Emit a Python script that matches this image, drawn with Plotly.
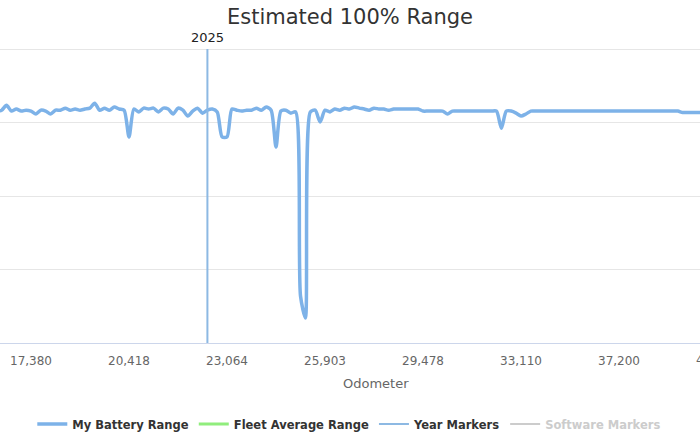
import plotly.graph_objects as go

# ---- data ----
# point index along category axis (starts a few points before first labelled tick)
start_index = -7
battery_range = [
    278.9, 279.2, 280.9, 278.9, 279.6, 278.9, 279.2,            # -7..-1
    278.9, 277.9, 279.2, 278.9, 277.9, 279.2, 279.2, 279.9,     # 0..7
    279.2, 279.6, 279.2, 279.6, 279.9, 281.6, 279.2, 279.9,     # 8..15
    279.2, 280.3, 279.6, 279.2, 270.1, 279.6, 278.6, 279.9,     # 16..23
    279.6, 279.9, 278.6, 279.9, 279.6, 277.9, 279.9, 279.2,     # 24..31
    277.2, 278.9, 279.9, 278.2, 279.2, 279.6, 278.6, 270.1,     # 32..39
    270.1, 279.6, 279.2, 278.9, 279.2, 279.2, 279.9, 279.2,     # 40..47
    280.3, 279.2, 266.7, 278.9, 279.2, 278.2, 278.6, 216.0,     # 48..55
    208.5, 278.6, 279.2, 275.2, 279.2, 278.6, 279.6, 279.2,     # 56..63
    279.9, 279.6, 280.3, 279.9, 279.6, 279.2, 279.9, 279.6,     # 64..71
    279.6, 279.2, 279.6, 279.6, 279.6, 279.6, 279.6, 279.6,     # 72..79
    278.9, 278.9, 278.9, 278.9, 278.9, 277.9, 278.9, 278.9,     # 80..87
    278.9, 278.9, 278.9, 278.9, 278.9, 278.9, 278.9, 278.9,     # 88..95
    273.1, 278.9, 278.9, 278.2, 277.2, 277.9, 278.9, 278.9,     # 96..103
    278.9, 278.9, 278.9, 278.9, 278.9, 278.9, 278.9, 278.9,     # 104..111
    278.9, 278.9, 278.9, 278.9, 278.9, 278.9, 278.9, 278.9,     # 112..119
    278.9, 278.9, 278.9, 278.9, 278.9, 278.9, 278.9, 278.9,     # 120..127
    278.9, 278.9, 278.9, 278.9, 278.9, 278.4, 278.4, 278.4,     # 128..135
    278.4, 278.4,                                               # 136..137
]
point_index = list(range(start_index, start_index + len(battery_range)))

tick_index = [0, 20, 40, 60, 80, 100, 120, 140]
tick_labels = ["17,380", "20,418", "23,064", "25,903", "29,478", "33,110", "37,200", "41,296"]

year_marker_index = [36]
year_marker_labels = ["2025"]

x_view = [-6.33, 136.53]
y_view = [200, 300.7]
y_grid_top = 300

BLUE = "#7db2e8"
GREEN = "#90ed7d"
MARKER_BLUE = "#8db9e3"
GREY = "#cccccc"

fig = go.Figure()
fig.add_trace(go.Scatter(
    x=point_index, y=battery_range, mode="lines", name="My Battery Range",
    line=dict(color=BLUE, width=3.5, shape="spline", smoothing=0.7),
))
fig.add_trace(go.Scatter(
    x=[None], y=[None], mode="lines", name="Fleet Average Range",
    line=dict(color=GREEN, width=3),
))
for k, xi in enumerate(year_marker_index):
    fig.add_trace(go.Scatter(
        x=[xi, xi], y=[y_view[0], y_grid_top], mode="lines", name="Year Markers",
        line=dict(color=MARKER_BLUE, width=2), showlegend=(k == 0),
    ))
    fig.add_annotation(x=xi, y=y_grid_top, xref="x", yref="y", text=year_marker_labels[k],
                       showarrow=False, yanchor="bottom", yshift=2,
                       font=dict(family="DejaVu Sans", size=13, color="#222"))
fig.add_trace(go.Scatter(
    x=[None], y=[None], mode="lines",
    name="<span style='color:#cccccc'>Software Markers</span>",
    line=dict(color=GREY, width=2),
))

# cut-off last tick label (beyond the visible plot range)
span = x_view[1] - x_view[0]
fig.add_annotation(x=(tick_index[-1] - x_view[0]) / span, y=0, xref="paper", yref="paper",
                   text=tick_labels[-1], showarrow=False, xanchor="center", yanchor="top",
                   yshift=-8,
                   font=dict(family="DejaVu Sans", size=12, color="#666666"))
# axis title
fig.add_annotation(x=375.5 / 700, y=0, xref="paper", yref="paper", text="Odometer",
                   showarrow=False, xanchor="center", yanchor="top", yshift=-31,
                   font=dict(family="DejaVu Sans", size=13, color="#666666"))

fig.update_layout(
    width=700, height=443,
    margin=dict(l=0, r=0, t=47, b=100),
    paper_bgcolor="white", plot_bgcolor="white",
    title=dict(text="Estimated 100% Range", x=0.5, xanchor="center", y=1 - 17 / 443,
               yanchor="middle", font=dict(family="DejaVu Sans", size=21, color="#333333")),
    font=dict(family="DejaVu Sans", color="#333333"),
    showlegend=True,
    legend=dict(orientation="h", x=0.499, xanchor="center", y=-0.274, yanchor="middle",
                font=dict(family="DejaVu Sans", size=11.5, color="#333333", weight="bold"),
                itemwidth=30),
    xaxis=dict(range=x_view, tickmode="array", tickvals=tick_index, ticktext=tick_labels,
               showgrid=False, zeroline=False, showline=True, linecolor="#ccd6eb", linewidth=1,
               ticks="", ticklabelstandoff=7,
               tickfont=dict(family="DejaVu Sans", size=12, color="#666666")),
    yaxis=dict(range=y_view, dtick=25, tick0=200, showgrid=True, gridcolor="#e6e6e6",
               gridwidth=1, zeroline=False, showticklabels=False, ticks=""),
)

fig.write_html("out.html")
